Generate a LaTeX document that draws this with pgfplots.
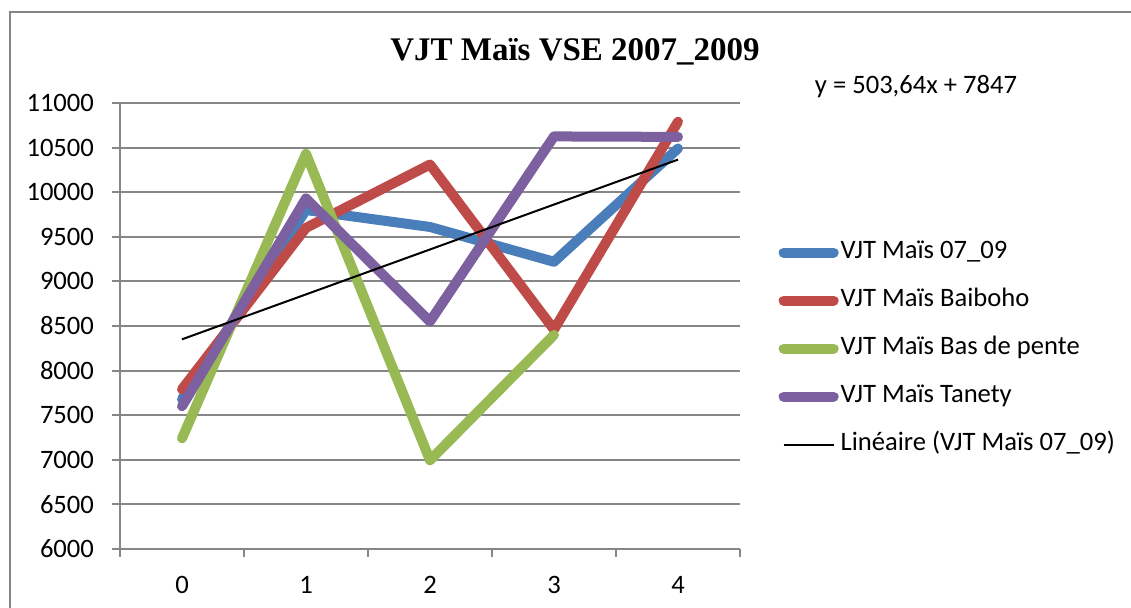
\documentclass[border=0pt]{standalone}
\usepackage{fontspec}
\setmainfont{Carlito}
\newfontfamily\titlefont{Liberation Serif}
\usepackage{pgfplots}
\pgfplotsset{compat=1.18}
\definecolor{cBlue}{RGB}{74,126,187}
\definecolor{cRed}{RGB}{190,75,72}
\definecolor{cGreen}{RGB}{152,185,84}
\definecolor{cPurple}{RGB}{125,96,160}
\definecolor{cGrid}{RGB}{134,134,134}
\begin{document}
\begin{tikzpicture}
\path[use as bounding box] (0,0) rectangle (565.5pt,304pt);
\draw[color=cGrid, line width=1pt] (5pt,-5pt) -- (5pt,298pt) -- (570pt,298pt);
\node[font=\titlefont\bfseries\fontsize{16.5}{20}\selectfont] at (287.5pt,278pt) {VJT Maïs VSE 2007\_2009};
\node[font=\fontsize{13.3}{16}\selectfont] at (458pt,260.5pt) {y = 503,64x + 7847};
\begin{axis}[
  at={(60pt,29.5pt)}, anchor=south west,
  width=310pt, height=223pt, scale only axis,
  xmin=-0.5, xmax=4.5, ymin=6000, ymax=11000,
  ytick={6000,6500,...,11000},
  scaled ticks=false,
  xtick={-0.5,0.5,...,4.5}, xticklabels={},
  extra x ticks={0,1,2,3,4}, extra x tick labels={0,1,2,3,4},
  extra x tick style={major tick length=0pt, xticklabel style={yshift=-10pt}},
  axis x line*=bottom, axis y line*=left,
  axis line style={draw=cGrid, line width=1pt, -},
  tick align=outside, major tick length=4pt,
  tick style={draw=cGrid, line width=1pt},
  ymajorgrids, major grid style={draw=cGrid, line width=1pt},
  ticklabel style={font=\fontsize{13.3}{16}\selectfont},
  yticklabel style={xshift=-5.5pt},
  /pgf/number format/assume math mode=true,
  /pgf/number format/1000 sep={},
  legend style={at={(1.052,0.706)}, anchor=north west, draw=none, fill=none,
    font=\fontsize{13.3}{16}\selectfont, row sep=10pt,
    nodes={inner sep=1pt, text height=9pt, text depth=3pt}},
  legend cell align=left,
  legend image code/.code={\draw[#1] (0pt,0pt) -- (25pt,0pt);},
]
\addplot[cBlue, line width=5pt, line cap=round, line join=round] coordinates {(0,7680) (1,9800) (2,9610) (3,9220) (4,10490)};
\addlegendentry{VJT Maïs 07\_09}
\addplot[cRed, line width=5pt, line cap=round, line join=round] coordinates {(0,7790) (1,9600) (2,10310) (3,8460) (4,10790)};
\addlegendentry{VJT Maïs Baiboho}
\addplot[cGreen, line width=5pt, line cap=round, line join=round] coordinates {(0,7240) (1,10430) (2,6995) (3,8400)};
\addlegendentry{VJT Maïs Bas de pente}
\addplot[cPurple, line width=5pt, line cap=round, line join=round] coordinates {(0,7600) (1,9930) (2,8550) (3,10625) (4,10620)};
\addlegendentry{VJT Maïs Tanety}
\addplot[black, line width=1pt] coordinates {(0,8350.6) (4,10365.2)};
\addlegendentry{Linéaire (VJT Maïs 07\_09)}
\end{axis}
\end{tikzpicture}
\end{document}
